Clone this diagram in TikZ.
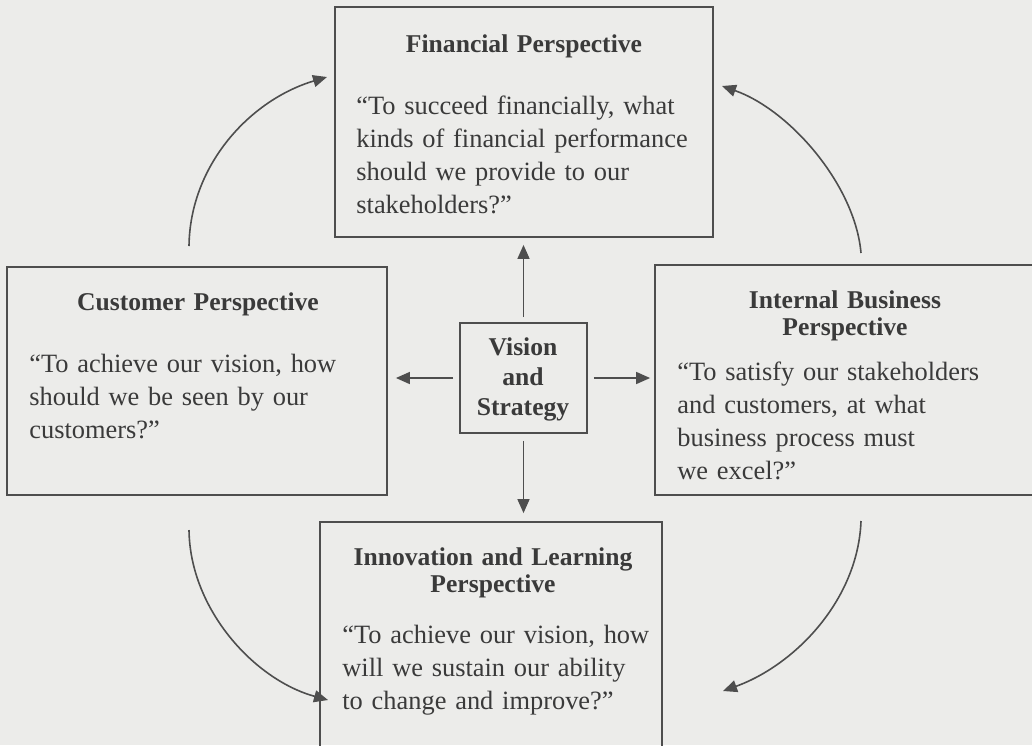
\documentclass[tikz,border=0pt]{standalone}
\usepackage{fontspec}
\setmainfont{Liberation Serif}
\usetikzlibrary{arrows.meta,fit}
\definecolor{paper}{RGB}{236,236,234}
\definecolor{ink}{RGB}{58,58,58}
\definecolor{rule}{RGB}{78,78,78}
\begin{document}
\begin{tikzpicture}[x=0.5pt,y=-0.5pt,
  box/.style={draw=rule,line width=0.9pt,inner sep=0pt},
  ttl/.style={font=\bfseries\fontsize{12.8}{14.2}\selectfont,text=ink,align=center,
    text width=180pt,anchor=base,inner sep=0pt},
  body/.style={font=\fontsize{13.2}{16.5}\selectfont,text=ink,align=left,
    text width=180pt,anchor=base west,inner sep=0pt},
  link/.style={draw=rule,line width=0.8pt,-{Triangle[length=7pt,width=6pt]}}]
\useasboundingbox (0,0) rectangle (1032,745);
\fill[paper] (0,0) rectangle (1032,745);
\clip (0,0) rectangle (1032,745);

% the five boxes
\node[box,fit={(335,7)(713,237)}] (fin) {};
\node[box,fit={(7,267)(387,495)}] (cus) {};
\node[box,fit={(655,265)(1036,495)}] (int) {};
\node[box,fit={(320,522)(662,760)}] (inn) {};
\node[box,fit={(460,323)(587,433)}] (vis) {};

% box texts
\node[ttl] (finT) at (524,52) {Financial Perspective};
\node[body] (finB) at (356,114) {\textquotedblleft To succeed financially, what\\
  kinds of financial performance\\ should we provide to our\\ stakeholders?\textquotedblright};

\node[ttl] (cusT) at (198,310) {Customer Perspective};
\node[body] (cusB) at (29,372) {\textquotedblleft To achieve our vision, how\\
  should we be seen by our\\ customers?\textquotedblright};

\node[ttl] (intT) at (845,308) {Internal Business\\[-0.5pt] Perspective};
\node[body] (intB) at (677,380) {\textquotedblleft To satisfy our stakeholders\\
  and customers, at what\\ business process must\\ we excel?\textquotedblright};

\node[ttl] (innT) at (493,565) {Innovation and Learning\\[-0.5pt] Perspective};
\node[body] (innB) at (342,643) {\textquotedblleft To achieve our vision, how\\
  will we sustain our ability\\ to change and improve?\textquotedblright};

\node[ttl,text width=60pt,font=\bfseries\fontsize{12.8}{15}\selectfont] (visT) at (523,355)
  {Vision\\ and\\ Strategy};

% straight arrows out of the centre box
\draw[link,shorten <=2.5pt,shorten >=3.5pt] (vis.north) -- (vis.north |- fin.south);
\draw[link,shorten <=3pt,shorten >=4pt] (vis.west) -- (vis.west -| cus.east);
\draw[link,shorten <=3pt,shorten >=2pt] (vis.east) -- (vis.east -| int.west);
\draw[link,shorten <=3.5pt,shorten >=4pt] (vis.south) -- (vis.south |- inn.north);

% curved arrows between the outer boxes
\coordinate (c1s) at (189,246);
\coordinate (c1e) at (327,77);
\coordinate (c2s) at (861,253);
\coordinate (c2e) at (722,86);
\coordinate (c3s) at (189,530);
\coordinate (c3e) at (328,700);
\coordinate (c4s) at (861,521);
\coordinate (c4e) at (723,691);
\draw[link] (c1s) .. controls (190,165) and (250,100) .. (c1e);
\draw[link] (c2s) .. controls (855,185) and (790,110) .. (c2e);
\draw[link] (c3s) .. controls (190,610) and (255,680) .. (c3e);
\draw[link] (c4s) .. controls (858,600) and (795,665) .. (c4e);
\end{tikzpicture}
\end{document}
